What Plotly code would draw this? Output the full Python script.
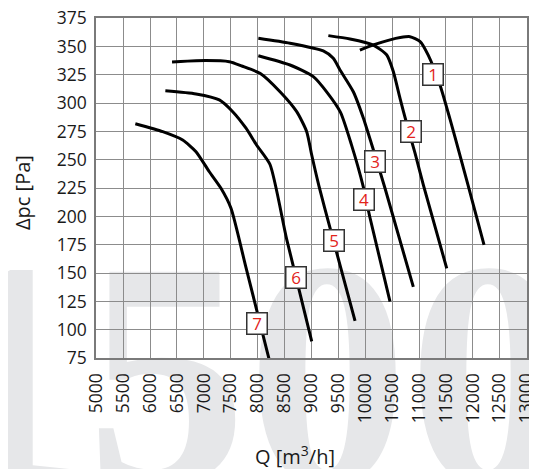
import plotly.graph_objects as go

W, H = 537, 469
OFF = 8  # page body margin in the browser

# ---- data ----
Q_TICKS = list(range(5000, 13001, 500))
P_TICKS = list(range(75, 376, 25))

q1 = [9900, 10150, 10460, 10650, 10830, 11020, 11170, 11390, 11575, 11760, 11915, 12207]
p1 = [347, 351.5, 356, 358, 358.8, 354.5, 342.5, 316, 286, 254, 227, 175]

q2 = [9314, 9717, 10150, 10400, 10521, 10646, 10770, 10925, 11079, 11514]
p2 = [359.7, 356.7, 351.4, 342.6, 328, 304.4, 282, 256, 228, 154.4]

q3 = [8013, 8602, 9220, 9406, 9531, 9778, 9964, 10150, 10367, 10893]
p3 = [357.4, 353, 346.2, 339.7, 329.4, 310.2, 287, 259, 225, 138]

q4 = [8013, 8602, 9035, 9300, 9540, 9740, 9960, 10088, 10460]
p4 = [342, 333.8, 323.5, 309, 292, 264, 227, 199, 125]

q5 = [6409, 6855, 7474, 7700, 8044, 8416, 8726, 8912, 9005, 9140, 9345, 9810]
p5 = [336.4, 337.6, 336.7, 333, 326.5, 310.2, 292.6, 275, 254.4, 227, 190, 108]

q6 = [6285, 6855, 7288, 7537, 7784, 7983, 8230, 8540, 9005]
p6 = [311, 308.2, 303, 292.6, 278, 263, 246, 180, 90]

q7 = [5727, 6236, 6607, 6855, 7102, 7319, 7505, 7784, 8230]
p7 = [282, 275, 267.6, 257.3, 239.6, 225, 207.4, 155, 71]

CURVES = [(q1, p1), (q2, p2), (q3, p3), (q4, p4), (q5, p5), (q6, p6), (q7, p7)]

LABELS = ["1", "2", "3", "4", "5", "6", "7"]
LABEL_Q = [11266, 10841, 10181, 9982, 9425, 8713, 7983]
LABEL_P = [325, 275, 249, 215, 179, 146, 106]

WATERMARK = "1500"

# ---- figure ----
fig = go.Figure()

# watermark on a background subplot (pixel coordinates)
fig.add_trace(go.Scatter(
    x=[247 - OFF], y=[402 - OFF], mode="text", text=[WATERMARK],
    textposition="middle center",
    textfont=dict(family="Liberation Sans Narrow", size=322, color="#e6e7e9", weight="bold"),
    cliponaxis=False, hoverinfo="skip", showlegend=False,
    xaxis="x", yaxis="y",
))

for q, p in CURVES:
    fig.add_trace(go.Scatter(
        x=q, y=p, mode="lines",
        line=dict(color="#000000", width=3, shape="spline", smoothing=0.6),
        showlegend=False, hoverinfo="skip",
        xaxis="x2", yaxis="y2",
    ))

annotations = []
for t, q, p in zip(LABELS, LABEL_Q, LABEL_P):
    annotations.append(dict(
        x=q, y=p, xref="x2", yref="y2", text=t, showarrow=False,
        font=dict(family="Open Sans", size=17, color="#e2231a"),
        bgcolor="#ffffff", bordercolor="#333333", borderwidth=1.5,
        width=17, height=18, borderpad=1,
    ))

annotations.append(dict(
    x=295 - OFF, y=455 - OFF, xref="x", yref="y", text="Q [m<sup>3</sup>/h]", showarrow=False,
    font=dict(family="Open Sans", size=20, color="#1a1a1a"),
    xanchor="center", yanchor="middle",
))
annotations.append(dict(
    x=22 - OFF, y=193 - OFF, xref="x", yref="y", text="Δpc [Pa]", showarrow=False,
    font=dict(family="Open Sans", size=20, color="#1a1a1a"),
    xanchor="center", yanchor="middle", textangle=-90,
))

x0, x1 = 96.2 - OFF, 526.7 - OFF
y_top, y_bot = 18.3 - OFF, 358.3 - OFF

fig.update_layout(
    template="none",
    width=W, height=H,
    margin=dict(l=0, r=0, t=0, b=0, autoexpand=False),
    paper_bgcolor="#ffffff",
    plot_bgcolor="rgba(0,0,0,0)",
    showlegend=False,
    xaxis=dict(domain=[0, 1], range=[0, W], visible=False, fixedrange=True, automargin=False),
    yaxis=dict(domain=[0, 1], range=[H, 0], visible=False, fixedrange=True, automargin=False),
    xaxis2=dict(
        domain=[x0 / W, x1 / W], range=[5000, 13000], anchor="y2", automargin=False,
        tickvals=Q_TICKS, ticktext=[str(v) for v in Q_TICKS], tickangle=-90,
        showgrid=True, gridcolor="#8c8c8c", gridwidth=1,
        showline=True, linecolor="#7a7a7a", linewidth=2, mirror=True,
        ticks="", zeroline=False, ticklabelstandoff=6, ticklabeloverflow="allow",
        tickfont=dict(family="Open Sans", size=17.5, color="#1a1a1a"),
    ),
    yaxis2=dict(
        domain=[(H - y_bot) / H, (H - y_top) / H], range=[75, 375], anchor="x2", automargin=False,
        tickvals=P_TICKS, ticktext=[str(v) for v in P_TICKS],
        showgrid=True, gridcolor="#8c8c8c", gridwidth=1,
        showline=True, linecolor="#7a7a7a", linewidth=2, mirror=True,
        ticks="", zeroline=False, ticklabelstandoff=4, ticklabeloverflow="allow",
        tickfont=dict(family="Open Sans", size=17.5, color="#1a1a1a"),
    ),
    annotations=annotations,
)

fig.write_html("out.html")
